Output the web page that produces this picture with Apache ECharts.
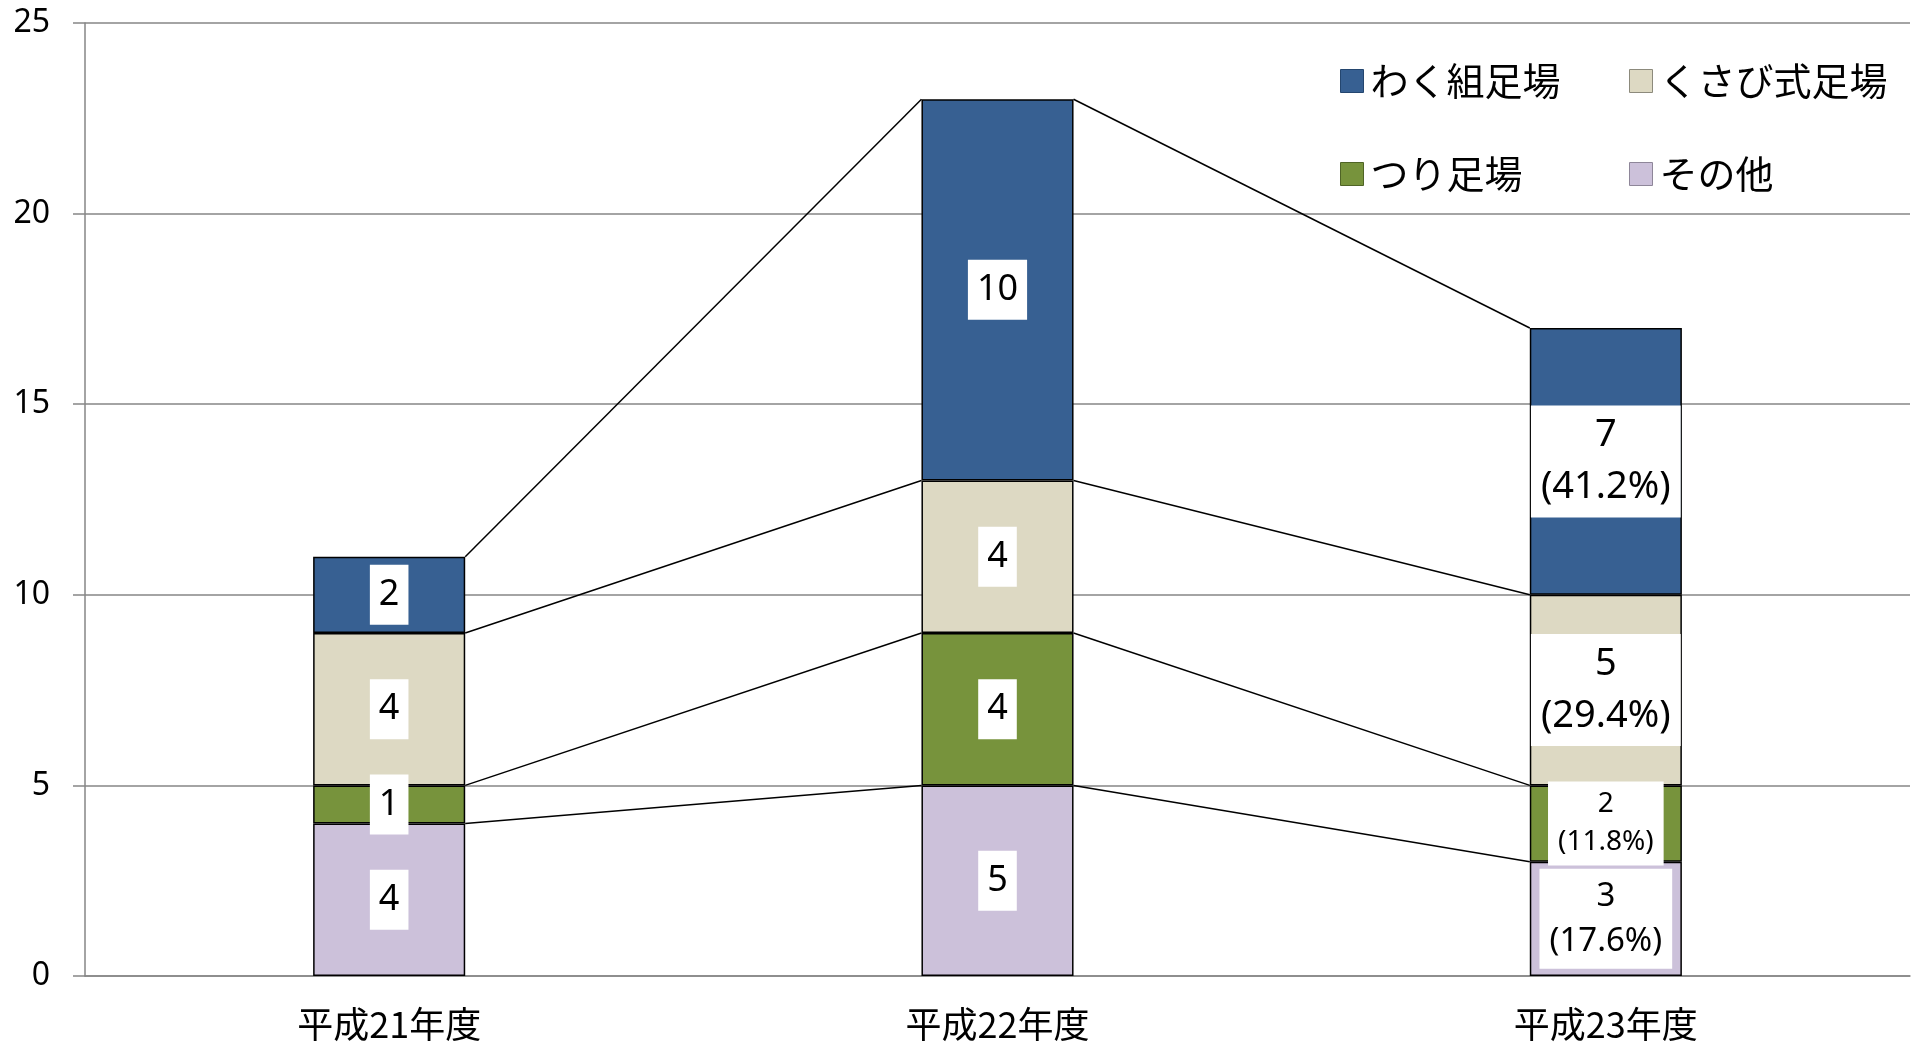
<!DOCTYPE html>
<html>
<head>
<meta charset="utf-8">
<script src="https://cdn.jsdelivr.net/npm/echarts@6/dist/echarts.min.js"></script>
<style>
html,body{margin:0;padding:0;background:#fff;}
#chart{width:1914px;height:1044px;}
</style>
</head>
<body>
<div id="chart"></div>
<script>
// ---- data ----
const categories = ['平成21年度', '平成22年度', '平成23年度'];
const wakugumi = [2, 10, 7];   // わく組足場
const kusabi = [4, 4, 5];      // くさび式足場
const tsuri = [1, 4, 2];       // つり足場
const sonota = [4, 5, 3];      // その他
const seriesNames = ['わく組足場', 'くさび式足場', 'つり足場', 'その他'];
const yMin = 0, yMax = 25, yInterval = 5;

// ---- styling ----
const colors = {
  'わく組足場': '#376092',
  'くさび式足場': '#DDD9C3',
  'つり足場': '#77933C',
  'その他': '#CCC1DA'
};
const legendBorder = {
  'わく組足場': '#24466f',
  'くさび式足場': '#8c8a7c',
  'つり足場': '#4f6426',
  'その他': '#8e8699'
};
// bottom-to-top stacking order
const stackOrder = [
  {name: 'その他', values: sonota, pctFont: 33, pctLH: 45, pctPad: [5, 10]},
  {name: 'つり足場', values: tsuri, pctFont: 28, pctLH: 38, pctPad: [4, 10]},
  {name: 'くさび式足場', values: kusabi, pctFont: 38, pctLH: 52, pctPad: [4, 10]},
  {name: 'わく組足場', values: wakugumi, pctFont: 38, pctLH: 52, pctPad: [4, 10]}
];

const totals = categories.map((_, i) => stackOrder.reduce((s, o) => s + o.values[i], 0));
// cumulative tops for series lines
const cum = [];
let running = categories.map(() => 0);
stackOrder.forEach(o => {
  running = running.map((v, i) => v + o.values[i]);
  cum.push(running.slice());
});

const numFont = 'Noto Sans';
const jpFont = 'Noto Sans CJK JP';
const lastIdx = categories.length - 1;

const barSeries = stackOrder.map(o => ({
  name: o.name,
  type: 'bar',
  stack: 'total',
  barWidth: '25%',
  z: 3,
  itemStyle: {color: colors[o.name], borderColor: '#000', borderWidth: 1.5},
  data: o.values.map((v, i) => {
    if (i === lastIdx) {
      const pct = (v / totals[i] * 100).toFixed(1);
      return {
        value: v,
        label: {
          show: true, position: 'inside', formatter: v + '\n(' + pct + '%)',
          backgroundColor: '#fff', color: '#000', fontFamily: numFont,
          fontSize: o.pctFont, lineHeight: o.pctLH, padding: o.pctPad, align: 'center'
        }
      };
    }
    return {
      value: v,
      label: {
        show: true, position: 'inside', formatter: String(v),
        backgroundColor: '#fff', color: '#000', fontFamily: numFont,
        fontSize: 36, lineHeight: 44, padding: [8, 9]
      }
    };
  })
}));

const lineSeries = {
  type: 'custom',
  z: 1,
  silent: true,
  encode: {x: 0, y: 1},
  data: categories.slice(0, -1).map((_, i) => [i, 0]),
  renderItem: function (params, api) {
    const i = api.value(0);
    const bw = api.size([1, 0])[0] * 0.25;
    const children = cum.map(level => {
      const a = api.coord([i, level[i]]);
      const b = api.coord([i + 1, level[i + 1]]);
      return {
        type: 'line',
        shape: {x1: a[0] + bw / 2, y1: a[1], x2: b[0] - bw / 2, y2: b[1]},
        style: {stroke: '#000', lineWidth: 1.5}
      };
    });
    return {type: 'group', children: children};
  }
};

const legendPos = [
  {left: 1340, top: 62},
  {left: 1629, top: 62},
  {left: 1340, top: 155},
  {left: 1629, top: 155}
];
const legends = seriesNames.map((n, k) => ({
  data: [{name: n, itemStyle: {borderColor: legendBorder[n], borderWidth: 1}}],
  left: legendPos[k].left,
  top: legendPos[k].top,
  padding: 0,
  icon: 'rect',
  itemWidth: 23,
  itemHeight: 23,
  itemGap: 12,
  selectedMode: false,
  textStyle: {fontFamily: jpFont, fontSize: 38, color: '#000', padding: [0, 0, 0, 2]}
}));

const chart = echarts.init(document.getElementById('chart'));
chart.setOption({
  animation: false,
  backgroundColor: '#fff',
  legend: legends,
  grid: {left: 85, right: 4, top: 23, bottom: 68, containLabel: false},
  xAxis: {
    type: 'category',
    data: categories,
    axisLine: {show: true, lineStyle: {color: '#868686', width: 1.5}},
    axisTick: {show: false},
    axisLabel: {fontFamily: jpFont, fontSize: 36, color: '#000', margin: 30}
  },
  yAxis: {
    type: 'value',
    min: yMin, max: yMax, interval: yInterval,
    axisLine: {show: true, lineStyle: {color: '#868686', width: 1.5}},
    axisTick: {show: true, length: 12, lineStyle: {color: '#868686', width: 1.5}},
    splitLine: {show: true, lineStyle: {color: '#868686', width: 1.5}},
    axisLabel: {fontFamily: numFont, fontSize: 32, color: '#000', margin: 35}
  },
  series: [lineSeries].concat(barSeries)
});
</script>
</body>
</html>
